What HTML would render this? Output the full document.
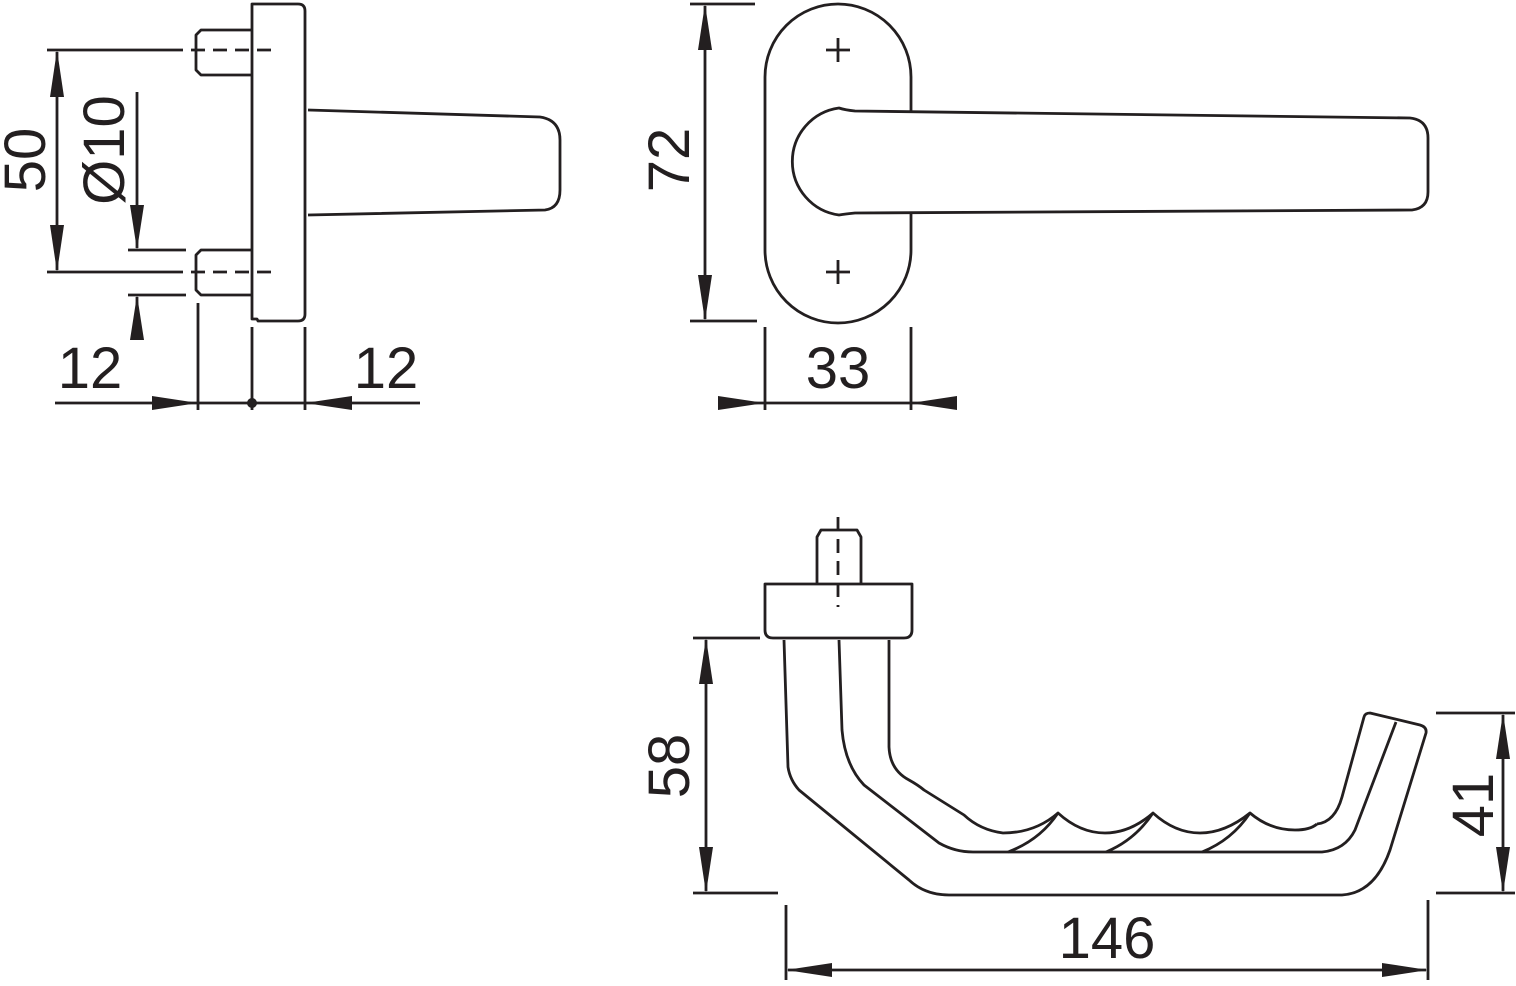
<!DOCTYPE html>
<html><head><meta charset="utf-8"><style>
html,body{margin:0;padding:0;background:#fff;}
svg{display:block;}
text{font-family:"Liberation Sans",sans-serif;font-size:58px;fill:#231f20;}
</style></head><body>
<svg width="1516" height="986" viewBox="0 0 1516 986" xmlns="http://www.w3.org/2000/svg">
<g fill="none" stroke="#231f20" stroke-width="2.8" stroke-linejoin="round">
<path d="M252,4 H298 Q305,4 305,11 V314 Q305,321 298,321 H258 L257,319 H252 Z"/>
<path d="M252,30 H201 L196,35 V70 L201,75 H252"/>
<path d="M252,250 H201 L196,255 V290 L201,295 H252"/>
<path d="M308,110 L540,117 Q560,120 560,140 V190 Q560,208 545,210 L308,215"/>
<path d="M47,50 H183 M47,272 H183 M128,250 H186 M128,295 H186"/>
<path d="M191,50 H273 M191,272 H273" stroke-dasharray="14,8"/>
<path d="M57,52 V270 M137,92 V248 M137,297 V340"/>
<path d="M198,303 V410 M252,327 V410 M305,327 V410 M55,403 H420"/>
<path d="M838,4 A73,73 0 0 1 911,77 V250 A73,73 0 0 1 838,323 A73,73 0 0 1 765,250 V77 A73,73 0 0 1 838,4 Z"/>
<path d="M826,50 H850 M838,38 V62 M826,272 H850 M838,260 V284"/>
<path d="M839,108 Q845,110 855,111 L1410,118 Q1428,120 1428,138 V192 Q1428,208 1412,210 L855,213 Q845,214 839,215 A54,54 0 0 1 839,108 Z" fill="#fff"/>
<path d="M705,6 V319 M690,4 H755 M690,321 H757"/>
<path d="M765,327 V410 M911,327 V410 M718,403 H957"/>
<path d="M817,584 V537 L821,530 H857 L861,537 V584"/>
<path d="M838,517 V607" stroke-dasharray="14,8"/>
<path d="M765,584 H912 V630 Q912,638 904,638 H773 Q765,638 765,630 Z"/>
<path d="M784,640 L788,767 Q790,780 799,790 L909,880 Q925,895 949,895 L1342,895 Q1375,893 1390,850 L1426,733 Q1427,727 1420,725 L1370,713 Q1365,713 1364,717 L1342,797 Q1335,822 1317,824"/>
<path d="M839,640 L842,730 Q845,765 864,785 L939,843 Q955,852 973,852 L1322,852 Q1345,850 1355,830 L1396,722"/>
<path d="M889,640 L889,747 Q890,770 909,780 Q918,785 924,790 L964,815 Q980,830 1003,833 Q1035,833 1058,813 Q1080,833 1105,833 Q1130,833 1153,813 Q1175,833 1200,833 Q1225,833 1250,813 Q1270,830 1295,830 Q1310,830 1317,824"/>
<path d="M1058,813 Q1040,840 1008,852 M1153,813 Q1135,840 1106,852 M1250,813 Q1232,840 1202,852"/>
<path d="M706,640 V891 M693,638 H760 M693,893 H778"/>
<path d="M1503,715 V891 M1436,713 H1515 M1436,893 H1515"/>
<path d="M786,905 V980 M1428,900 V980 M788,970 H1426"/>
</g>
<g fill="#231f20" stroke="none">
<polygon points="57,50 50,97 64,97"/><polygon points="57,272 50,225 64,225"/>
<polygon points="137,250 130,205 144,205"/><polygon points="137,295 130,340 144,340"/>
<polygon points="198,403 152,396 152,410"/><polygon points="305,403 352,396 352,410"/>
<circle cx="252" cy="403" r="5"/>
<polygon points="705,4 698,50 712,50"/><polygon points="705,321 698,275 712,275"/>
<polygon points="765,403 718,396 718,410"/><polygon points="911,403 957,396 957,410"/>
<polygon points="706,638 699,684 713,684"/><polygon points="706,893 699,847 713,847"/>
<polygon points="1503,713 1496,759 1510,759"/><polygon points="1503,893 1496,847 1510,847"/>
<polygon points="786,970 832,963 832,977"/><polygon points="1428,970 1382,963 1382,977"/>
</g>
<text x="90" y="388" text-anchor="middle">12</text>
<text x="386" y="388" text-anchor="middle">12</text>
<text x="838" y="388" text-anchor="middle">33</text>
<text x="1107" y="958" text-anchor="middle">146</text>
<text transform="translate(45,160) rotate(-90)" text-anchor="middle">50</text>
<text transform="translate(124,150) rotate(-90)" text-anchor="middle">Ø10</text>
<text transform="translate(689,160) rotate(-90)" text-anchor="middle">72</text>
<text transform="translate(689,766) rotate(-90)" text-anchor="middle">58</text>
<text transform="translate(1493,805) rotate(-90)" text-anchor="middle">41</text>
</svg>
</body></html>
